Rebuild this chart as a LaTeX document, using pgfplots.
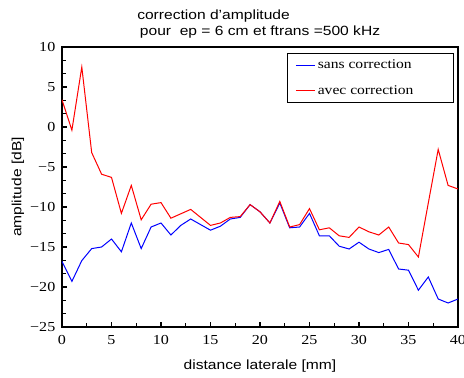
\documentclass[border=0pt]{standalone}
\usepackage{fontspec}
\setmainfont{Liberation Serif}[FakeStretch=1.17]
\setsansfont{Liberation Sans}[FakeStretch=1.17]
\usepackage{pgfplots}
\pgfplotsset{compat=1.18}
\begin{document}
\begin{tikzpicture}
\begin{axis}[
  name=ax,
  scale only axis,
  clip mode=individual,
  width=297pt, height=210pt,
  xmin=0, xmax=40, ymin=-25, ymax=10,
  xtick={0,5,...,40},
  xticklabels={0,5,10,15,20,25,30,35,40},
  ytick={-25,-20,...,10},
  yticklabels={−25,−20,−15,−10,−5,0,5,10},
  minor x tick num=1,
  minor y tick num=2,
  xtick pos=bottom, ytick pos=left,
  tick align=inside,
  major tick length=4pt,
  minor tick length=3pt,
  tick style={black, line width=0.8pt},
  axis line style={line width=1pt},
  ticklabel style={font=\fontsize{10.3}{12}\selectfont},
  xticklabel style={yshift=-2.5pt},
  yticklabel style={xshift=-1.5pt},
  xlabel={distance laterale [mm]},
  ylabel={amplitude [dB]},
  xlabel style={font=\sffamily\fontsize{10}{12}\selectfont, at={(axis description cs:0.5,-0.139)}, anchor=center},
  ylabel style={font=\sffamily\fontsize{10}{12}\selectfont, at={(axis description cs:-0.111,0.5)}, anchor=center},
  legend style={at={(rel axis cs:0.9907,0.98)}, anchor=north east, draw=black, line width=0.8pt,
    font=\fontsize{10}{12}\selectfont, inner xsep=6pt, inner ysep=3pt, row sep=7pt},
  legend cell align=left,
  legend image code/.code={\draw[#1, line width=0.8pt] (0pt,0pt) -- (14pt,0pt);},
  every axis plot/.append style={line width=0.75pt},
]
\addplot[blue] coordinates {
(0,-16.8) (1,-19.3) (2,-16.7) (3,-15.2) (4,-15.0) (5,-14.0) (6,-15.6) (7,-12.0) (8,-15.2) (9,-12.5)
(10,-12.0) (11,-13.5) (12,-12.3) (13,-11.5) (14,-12.2) (15,-12.9) (16,-12.4) (17,-11.5) (18,-11.3) (19,-9.7)
(20,-10.6) (21,-12.0) (22,-9.5) (23,-12.6) (24,-12.5) (25,-10.8) (26,-13.6) (27,-13.6) (28,-14.9) (29,-15.25)
(30,-14.4) (31,-15.25) (32,-15.7) (33,-15.3) (34,-17.75) (35,-17.9) (36,-20.4) (37,-18.75) (38,-21.5) (39,-22.0) (40,-21.5)
};
\addlegendentry{\makebox[94pt][l]{sans correction}}
\addplot[red] coordinates {
(0,3.4) (1,-0.4) (2,7.5) (3,-3.2) (4,-5.9) (5,-6.3) (6,-10.8) (7,-7.3) (8,-11.6) (9,-9.65)
(10,-9.45) (11,-11.4) (12,-10.85) (13,-10.3) (14,-11.3) (15,-12.3) (16,-12.0) (17,-11.3) (18,-11.2) (19,-9.7)
(20,-10.6) (21,-12.0) (22,-9.3) (23,-12.5) (24,-12.2) (25,-10.2) (26,-12.85) (27,-12.6) (28,-13.6) (29,-13.8)
(30,-12.5) (31,-13.1) (32,-13.5) (33,-12.5) (34,-14.5) (35,-14.7) (36,-16.25) (37,-9.5) (38,-2.8) (39,-7.3) (40,-7.75)
};
\addlegendentry{\makebox[94pt][l]{avec correction}}
\end{axis}
\node[anchor=base west, font=\sffamily\fontsize{10}{12}\selectfont, inner sep=0pt] at ([shift={(56.25pt,20.6pt)}]ax.north west) {correction d'amplitude};
\node[anchor=base west, font=\sffamily\fontsize{10}{12}\selectfont, inner sep=0pt] at ([shift={(56.25pt,8.25pt)}]ax.north west) {\hspace*{2pt}pour\ \ ep = 6 cm et ftrans =500 kHz};
\pgfresetboundingbox
\path ([shift={(-46.5pt,-38.25pt)}]ax.south west) rectangle ([shift={(4.5pt,35.25pt)}]ax.north east);
\end{tikzpicture}
\end{document}
